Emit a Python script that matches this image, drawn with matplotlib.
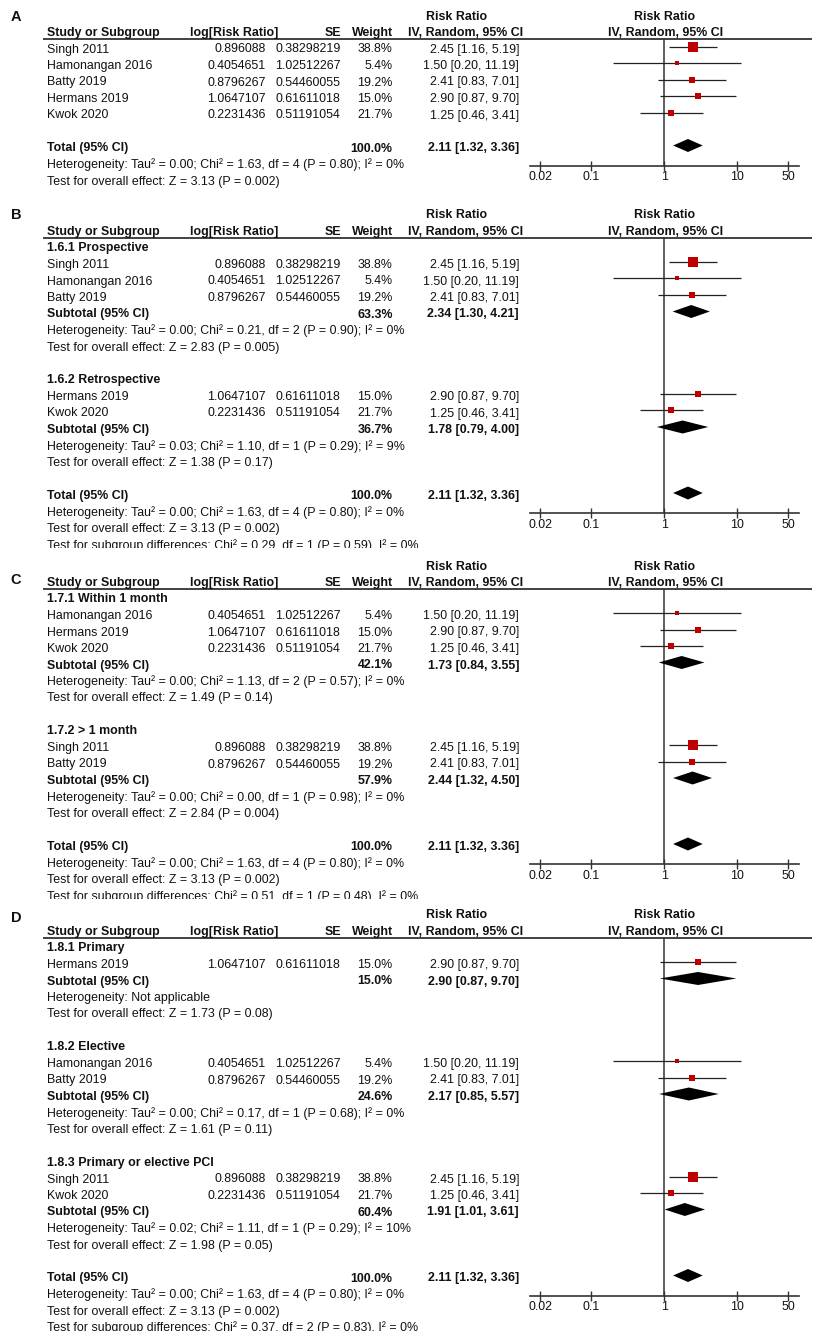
import matplotlib
matplotlib.use('Agg')
import matplotlib.pyplot as plt
from matplotlib.patches import Rectangle
import numpy as np

plt.rcParams['font.family'] = ['Liberation Sans', 'DejaVu Sans']

# ---------------- data ----------------
studies = ['Singh 2011', 'Hamonangan 2016', 'Batty 2019', 'Hermans 2019', 'Kwok 2020']
log_rr = [0.896088, 0.4054651, 0.8796267, 1.0647107, 0.2231436]
se = [0.38298219, 1.02512267, 0.54460055, 0.61611018, 0.51191054]
weight = [38.8, 5.4, 19.2, 15.0, 21.7]
rr = [2.45, 1.50, 2.41, 2.90, 1.25]
rr_lo = [1.16, 0.20, 0.83, 0.87, 0.46]
rr_hi = [5.19, 11.19, 7.01, 9.70, 3.41]

total_weight = 100.0
total_rr, total_lo, total_hi = 2.11, 1.32, 3.36
total_het = 'Tau² = 0.00; Chi² = 1.63, df = 4 (P = 0.80); I² = 0%'
total_z = 'Z = 3.13 (P = 0.002)'

# panel B: study design
b_names = ['1.6.1 Prospective', '1.6.2 Retrospective']
b_members = [[0, 1, 2], [3, 4]]
b_weight = [63.3, 36.7]
b_rr = [2.34, 1.78]
b_lo = [1.30, 0.79]
b_hi = [4.21, 4.00]
b_het = ['Tau² = 0.00; Chi² = 0.21, df = 2 (P = 0.90); I² = 0%',
         'Tau² = 0.03; Chi² = 1.10, df = 1 (P = 0.29); I² = 9%']
b_z = ['Z = 2.83 (P = 0.005)', 'Z = 1.38 (P = 0.17)']
b_diff = 'Chi² = 0.29, df = 1 (P = 0.59), I² = 0%'

# panel C: timing
c_names = ['1.7.1 Within 1 month', '1.7.2 > 1 month']
c_members = [[1, 3, 4], [0, 2]]
c_weight = [42.1, 57.9]
c_rr = [1.73, 2.44]
c_lo = [0.84, 1.32]
c_hi = [3.55, 4.50]
c_het = ['Tau² = 0.00; Chi² = 1.13, df = 2 (P = 0.57); I² = 0%',
         'Tau² = 0.00; Chi² = 0.00, df = 1 (P = 0.98); I² = 0%']
c_z = ['Z = 1.49 (P = 0.14)', 'Z = 2.84 (P = 0.004)']
c_diff = 'Chi² = 0.51, df = 1 (P = 0.48), I² = 0%'

# panel D: PCI type
d_names = ['1.8.1 Primary', '1.8.2 Elective', '1.8.3 Primary or elective PCI']
d_members = [[3], [1, 2], [0, 4]]
d_weight = [15.0, 24.6, 60.4]
d_rr = [2.90, 2.17, 1.91]
d_lo = [0.87, 0.85, 1.01]
d_hi = [9.70, 5.57, 3.61]
d_het = [None,
         'Tau² = 0.00; Chi² = 0.17, df = 1 (P = 0.68); I² = 0%',
         'Tau² = 0.02; Chi² = 1.11, df = 1 (P = 0.29); I² = 10%']
d_z = ['Z = 1.73 (P = 0.08)', 'Z = 1.61 (P = 0.11)', 'Z = 1.98 (P = 0.05)']
d_diff = 'Chi² = 0.37, df = 2 (P = 0.83), I² = 0%'

axis_ticks = [0.02, 0.1, 1, 10, 50]
axis_ticklabels = ['0.02', '0.1', '1', '10', '50']

# ---------------- layout ----------------
W, H = 815, 1339
fig = plt.figure(figsize=(W / 100, H / 100), dpi=100)
bg = fig.add_axes([0, 0, 1, 1])
bg.set_xlim(0, W)
bg.set_ylim(H, 0)
bg.axis('off')

FS = 8.9
TXT = '#111111'
LINE = '#333333'
RED = '#c00000'
STEP = 16.5
X_NAME, X_LOG, X_SE, X_W, X_CI = 47, 265.7, 340.7, 392.7, 519
FX0, FX1, FX1PX, PX_PER_DEC = 530, 799, 664.3, 73.0
XLIM = (10 ** ((FX0 - FX1PX) / PX_PER_DEC), 10 ** ((FX1 - FX1PX) / PX_PER_DEC))
MARK_OFF = -3.0


def t(x, y, s, ha='left', bold=False, size=FS):
    bg.text(x, y, s, ha=ha, va='center', fontsize=size, color=TXT,
            fontweight='bold' if bold else 'normal')


def build_rows(groups):
    rows = []
    if groups is None:
        for i in range(len(studies)):
            rows.append(('study', i))
        rows.append(('blank', None))
    else:
        names, members, sw, srr, slo, shi, shet, sz, diff = groups
        for g in range(len(names)):
            rows.append(('group', names[g]))
            for i in members[g]:
                rows.append(('study', i))
            rows.append(('sub', (sw[g], srr[g], slo[g], shi[g])))
            rows.append(('het', shet[g]))
            rows.append(('z', sz[g]))
            rows.append(('blank', None))
    rows.append(('total', None))
    rows.append(('het', total_het))
    rows.append(('z', total_z))
    if groups is not None:
        rows.append(('diff', groups[-1]))
    return rows


def panel(letter, letter_y, header_y, groups):
    # letter label
    bg.text(16, letter_y, letter, ha='center', va='center', fontsize=10.5,
            fontweight='bold', color=TXT)
    # headers
    t(X_NAME, header_y, 'Study or Subgroup', bold=True)
    t(190, header_y, 'log[Risk Ratio]', bold=True)
    t(X_SE, header_y, 'SE', ha='right', bold=True)
    t(X_W, header_y, 'Weight', ha='right', bold=True)
    t(457, header_y - STEP, 'Risk Ratio', ha='center', bold=True)
    t(466, header_y, 'IV, Random, 95% CI', ha='center', bold=True)
    t(665, header_y - STEP, 'Risk Ratio', ha='center', bold=True)
    t(666, header_y, 'IV, Random, 95% CI', ha='center', bold=True)
    line_y = header_y + 5.5
    bg.plot([43, 812], [line_y, line_y], color=LINE, lw=1.3, solid_capstyle='butt')

    rows = build_rows(groups)
    ys = [header_y + STEP * (k + 1) for k in range(len(rows))]
    # axis at the heterogeneity row following total
    k_total = [k for k, r in enumerate(rows) if r[0] == 'total'][0]
    axis_y = ys[k_total + 1] + 0.5

    fa = fig.add_axes([FX0 / W, 1 - axis_y / H, (FX1 - FX0) / W, (axis_y - line_y) / H])
    fa.set_xscale('log')
    fa.set_xlim(*XLIM)
    fa.set_ylim(axis_y, line_y)
    fa.patch.set_alpha(0)
    for s in ['top', 'left', 'right']:
        fa.spines[s].set_visible(False)
    fa.spines['bottom'].set_color(LINE)
    fa.spines['bottom'].set_linewidth(1.2)
    fa.set_xticks(axis_ticks)
    fa.set_xticklabels(axis_ticklabels)
    fa.xaxis.set_minor_locator(matplotlib.ticker.NullLocator())
    fa.tick_params(axis='x', direction='inout', length=7.5, width=1.0, color=LINE,
                   labelsize=FS, labelcolor=TXT, pad=0.5)
    fa.set_yticks([])
    fa.axvline(1, color=LINE, lw=1.1, zorder=1)

    for k, (kind, p) in enumerate(rows):
        y = ys[k]
        my = y + MARK_OFF
        if kind == 'study':
            i = p
            t(X_NAME, y, studies[i])
            t(X_LOG, y, str(log_rr[i]), ha='right')
            t(X_SE, y, str(se[i]), ha='right')
            t(X_W, y, f'{weight[i]:.1f}%', ha='right')
            t(X_CI, y, f'{rr[i]:.2f} [{rr_lo[i]:.2f}, {rr_hi[i]:.2f}]', ha='right')
            fa.plot([rr_lo[i], rr_hi[i]], [my, my], color='#222222', lw=0.9,
                    solid_capstyle='butt', zorder=2)
            side = 1.45 * np.sqrt(weight[i])
            fa.plot([rr[i]], [my], marker='s', ms=side * 0.72, color=RED,
                    mec=RED, mew=0, zorder=3)
        elif kind == 'group':
            t(X_NAME, y, p, bold=True)
        elif kind in ('sub', 'total'):
            if kind == 'sub':
                w, e, lo, hi = p
                lab = 'Subtotal (95% CI)'
            else:
                w, e, lo, hi = total_weight, total_rr, total_lo, total_hi
                lab = 'Total (95% CI)'
            t(X_NAME, y, lab, bold=True)
            t(X_W, y, f'{w:.1f}%', ha='right', bold=True)
            t(X_CI, y, f'{e:.2f} [{lo:.2f}, {hi:.2f}]', ha='right', bold=True)
            h = 13.0
            fa.fill([lo, e, hi, e], [my, my - h / 2, my, my + h / 2],
                    color='black', lw=0, zorder=3)
        elif kind == 'het':
            t(X_NAME, y, 'Heterogeneity: ' + (p if p else 'Not applicable'))
        elif kind == 'z':
            t(X_NAME, y, 'Test for overall effect: ' + p)
        elif kind == 'diff':
            t(X_NAME, y, 'Test for subgroup differences: ' + p)
            # the row is cut off by the next panel in the original figure
            bg.add_patch(Rectangle((0, y + 2.5), 460, 6, color='white', zorder=10, lw=0))


panel('A', 17, 33, None)
panel('B', 215, 232, (b_names, b_members, b_weight, b_rr, b_lo, b_hi, b_het, b_z, b_diff))
panel('C', 580, 583, (c_names, c_members, c_weight, c_rr, c_lo, c_hi, c_het, c_z, c_diff))
panel('D', 918, 932, (d_names, d_members, d_weight, d_rr, d_lo, d_hi, d_het, d_z, d_diff))

fig.savefig('out.png', dpi=100)
